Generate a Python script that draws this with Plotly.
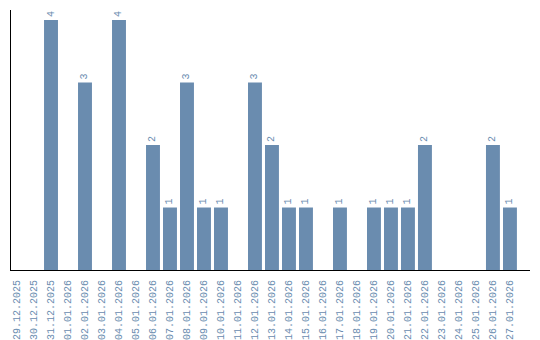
import plotly.graph_objects as go

dates = ["29.12.2025", "30.12.2025", "31.12.2025", "01.01.2026", "02.01.2026",
         "03.01.2026", "04.01.2026", "05.01.2026", "06.01.2026", "07.01.2026",
         "08.01.2026", "09.01.2026", "10.01.2026", "11.01.2026", "12.01.2026",
         "13.01.2026", "14.01.2026", "15.01.2026", "16.01.2026", "17.01.2026",
         "18.01.2026", "19.01.2026", "20.01.2026", "21.01.2026", "22.01.2026",
         "23.01.2026", "24.01.2026", "25.01.2026", "26.01.2026", "27.01.2026"]
counts = [0, 0, 4, 0, 3, 0, 4, 0, 2, 1, 3, 1, 1, 0, 3, 2, 1, 1, 0, 1,
          0, 1, 1, 1, 2, 0, 0, 0, 2, 1]

color = "#6a8caf"
font = "Liberation Mono"
idx = list(range(len(dates)))

fig = go.Figure(go.Bar(
    x=idx, y=counts, width=0.82,
    marker=dict(color=color, line=dict(width=0)),
    text=[str(c) if c > 0 else "" for c in counts],
    textposition="outside", textangle=-90,
    textfont=dict(family=font, size=10, color=color),
    cliponaxis=False,
))
fig.update_layout(
    width=540, height=340,
    margin=dict(l=11, r=10, t=10, b=70, autoexpand=False),
    paper_bgcolor="white", plot_bgcolor="white",
    showlegend=False,
    xaxis=dict(range=[-0.353, 30.18], tickvals=idx, ticktext=dates,
               tickangle=-90, showgrid=False, zeroline=False,
               showline=True, linecolor="black", linewidth=1,
               ticks="", automargin=False, ticklabelstandoff=5,
               tickfont=dict(family=font, size=10, color=color)),
    yaxis=dict(range=[0, 4.16], showgrid=False, zeroline=False,
               showline=True, linecolor="black", linewidth=1,
               showticklabels=False, ticks="", automargin=False),
)
fig.write_html("out.html")
